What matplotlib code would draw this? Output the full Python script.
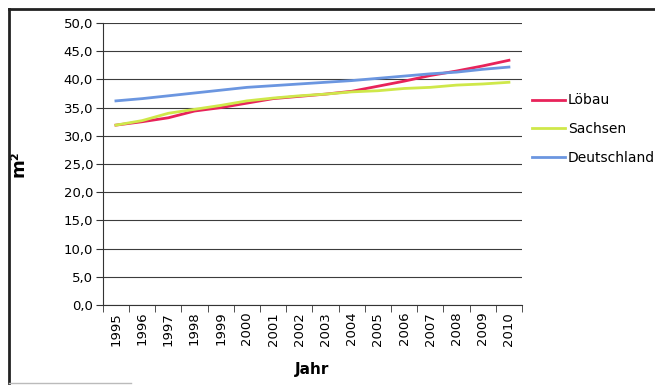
import numpy as np
import matplotlib.pyplot as plt
from matplotlib.lines import Line2D

# Wohnfläche je Einwohner
jahre = ["1995", "1996", "1997", "1998", "1999", "2000", "2001", "2002",
         "2003", "2004", "2005", "2006", "2007", "2008", "2009", "2010"]
loebau = [31.9, 32.5, 33.2, 34.4, 35.0, 35.8, 36.6, 37.0,
          37.4, 37.9, 38.8, 39.7, 40.7, 41.5, 42.4, 43.4]
sachsen = [31.9, 32.7, 34.0, 34.7, 35.4, 36.2, 36.7, 37.1,
           37.4, 37.8, 38.0, 38.4, 38.6, 39.0, 39.2, 39.5]
deutschland = [36.2, 36.6, 37.1, 37.6, 38.1, 38.6, 38.9, 39.2,
               39.5, 39.8, 40.2, 40.6, 41.0, 41.3, 41.8, 42.2]
y_ticks = [0, 5, 10, 15, 20, 25, 30, 35, 40, 45, 50]

plt.rcParams['font.family'] = ['DejaVu Sans']

fig = plt.figure(figsize=(6.55, 3.85), dpi=100)
ax = fig.add_axes([0.157, 0.208, 0.640, 0.732])

x = np.arange(len(jahre))
ax.plot(x, loebau, color='#e8235a', lw=2, label='Löbau', zorder=3)
ax.plot(x, sachsen, color='#cfe84a', lw=2, label='Sachsen', zorder=3)
ax.plot(x, deutschland, color='#6b96e0', lw=2, label='Deutschland', zorder=3)

ax.set_xlim(-0.5, len(jahre) - 0.5)
ax.set_ylim(0, 50)
ax.set_yticks(y_ticks)
ax.set_yticklabels([f"{v:.1f}".replace('.', ',') for v in y_ticks], fontsize=9.5)
ax.yaxis.grid(True, color='#3c3c3c', lw=0.8)
ax.set_axisbelow(True)

ax.set_xticks(x)
ax.set_xticklabels(jahre, rotation=90, fontsize=9.5)
ax.set_xticks(np.arange(len(jahre) + 1) - 0.5, minor=True)
ax.tick_params(axis='x', which='major', length=0, pad=5)
ax.tick_params(axis='x', which='minor', length=5, direction='out', color='#333333')
ax.tick_params(axis='y', length=5, direction='out', color='#333333', pad=2)

for s in ['top', 'right']:
    ax.spines[s].set_visible(False)
ax.spines['left'].set_color('#333333')
ax.spines['bottom'].set_color('#333333')

ax.set_xlabel('Jahr', fontsize=11, fontweight='bold', labelpad=12)
ax.set_ylabel('m²', fontsize=13, fontweight='bold', labelpad=26)

ax.legend(loc='upper left', bbox_to_anchor=(1.0, 0.785), frameon=False,
          fontsize=10, handlelength=2.4, handletextpad=0.2, labelspacing=1.05,
          borderaxespad=0.3)

# Rahmen um das Diagramm
fig.add_artist(Line2D([9 / 655, 9 / 655], [2 / 385, 376 / 385],
                      transform=fig.transFigure, color='#222222', lw=2))
fig.add_artist(Line2D([9 / 655, 1.0], [376 / 385, 376 / 385],
                      transform=fig.transFigure, color='#222222', lw=2))
fig.add_artist(Line2D([9 / 655, 0.2], [2 / 385, 2 / 385],
                      transform=fig.transFigure, color='#bbbbbb', lw=1))

fig.savefig('out.png', dpi=100)
